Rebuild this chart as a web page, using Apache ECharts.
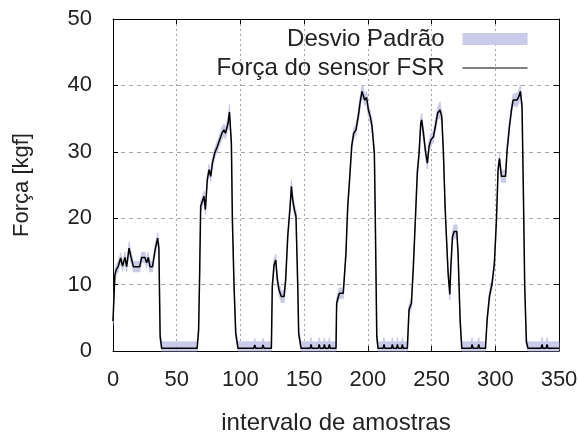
<!DOCTYPE html>
<html>
<head>
<meta charset="utf-8">
<script src="https://cdn.jsdelivr.net/npm/echarts@6/dist/echarts.min.js"></script>
<style>html,body{margin:0;padding:0;background:#fff}#c{width:579px;height:435px}</style>
</head>
<body>
<div id="c"></div>
<script>
// sample index
var samples = [0,1.5,2.5,4,6,7.5,9.4,10.7,12.6,14.2,16,21,22.5,25,26.4,27.7,29,31,33,35,36,37,38.2,
  50,66,67.2,68,68.8,70.6,71.4,72.5,74,75.4,76.7,78,79.8,81.9,83.7,85.5,87,88.2,90.3,91.4,92.9,93.7,95,96.3,98.1,
  105,110.5,111.2,112,117,117.7,118.5,124.3,125,126.4,127.7,129,130.3,132.1,134.2,135.5,137.1,139,140,141,142.3,143.6,145,145.7,147.6,
  154.7,155.4,156.1,161.1,161.8,162.5,165.2,165.9,166.6,169.1,169.8,170.5,175,175.5,177.6,180.7,182.8,184.2,185.5,187.3,188.9,190.7,192.8,193.8,195.4,196.4,197.5,199,200.4,201.9,203.3,205.1,205.7,207,208,
  212,212.7,213.4,218.5,219.2,219.9,222.5,223.2,223.9,226.4,227.1,227.8,231,232.3,234.2,235.7,237.5,238.8,240.2,241.5,242.2,243.6,245.4,246.7,248,249.5,251.5,253.4,254.7,256.6,258,259.3,260.6,262,263,264.3,265,266.4,267.7,269.8,270.8,272.4,273.7,
  281.1,281.8,282.5,286.3,287,287.7,292.3,293.6,295.4,297.5,299.3,300.9,302.2,303.3,304.8,308,309.3,311.1,312.7,314,317.1,318.4,319.7,321,322.1,323.1,324.4,325.7,
  336,336.7,337.4,339.9,340.6,341.3,350];
// mean FSR force [kgf]
var force = [4.5,11.5,12.2,12.7,14,12.8,14.1,12.7,15.5,14.1,12.7,12.7,14.1,14.1,13.3,14.1,12.7,12.7,15.2,17,15.5,2.2,0.4,
  0.4,0.4,3.2,11.7,21.8,22.8,23.3,21.3,25.8,27.3,26.3,28.3,29.8,30.8,31.8,32.8,33.3,32.8,34.3,36,31.3,19.7,9.7,2.7,0.4,
  0.4,0.4,0.9,0.4,0.4,0.9,0.4,0.4,9.7,13,13.7,10.7,9.2,8.2,8.2,10.7,17.2,21.8,24.8,22.8,21.3,20.3,9.7,2.7,0.4,
  0.4,1.0,0.4,0.4,1.0,0.4,0.4,1.0,0.4,0.4,1.0,0.4,0.4,7.2,8.7,8.7,14.7,21.8,25.3,30.8,32.8,33.3,35.8,37.3,39.1,38.8,37.8,38.2,36.3,35.3,33.8,29.8,22,2.2,0.4,
  0.4,1.0,0.4,0.4,1.0,0.4,0.4,1.0,0.4,0.4,1.0,0.4,0.4,6.2,7.2,12.7,20.8,26.8,29.8,34.3,34.8,32.8,29.8,28.3,30.8,31.8,32.3,34.3,35.8,36.3,35.3,29.8,21.8,15.7,11.7,8.5,12.2,17.2,18,18,14.7,4.7,0.4,
  0.4,1.0,0.4,0.4,1.0,0.4,0.4,4.7,8.2,10.2,13.2,19.7,27.3,29,26.3,26.3,30.3,33.8,36.3,37.8,37.8,38.3,39.1,36.8,23.3,9.7,1.4,0.4,
  0.4,1.0,0.4,0.4,1.0,0.4,0.4];
// standard deviation [kgf]
var stdDev = [0.5,0.8,0.8,0.8,0.8,0.8,0.8,0.8,0.9,0.8,0.8,0.8,0.8,0.8,0.8,0.8,0.8,0.8,0.8,0.8,0.8,0.8,1.0,
  1.0,1.0,0.8,0.8,0.8,0.8,0.8,0.8,0.8,0.8,0.8,0.8,0.8,0.8,0.8,0.9,0.9,0.9,1.0,1.2,1.0,0.8,0.8,0.8,1.0,
  1.0,1.0,1.0,1.0,1.0,1.0,1.0,1.0,0.8,0.9,0.9,0.9,0.9,0.9,0.9,0.9,0.9,0.9,1.0,0.9,0.9,0.9,0.8,0.8,1.0,
  1.0,1.0,1.0,1.0,1.0,1.0,1.0,1.0,1.0,1.0,1.0,1.0,1.0,0.8,0.8,0.8,0.8,0.8,0.8,0.8,0.8,0.8,0.9,0.9,1.0,1.0,0.9,0.9,0.9,0.9,0.9,0.9,0.8,0.8,1.0,
  1.0,1.0,1.0,1.0,1.0,1.0,1.0,1.0,1.0,1.0,1.0,1.0,1.0,0.8,0.8,0.8,0.8,0.8,0.8,0.9,1.0,0.9,0.9,0.9,0.9,0.9,0.9,0.9,0.9,1.2,0.9,0.8,0.8,0.8,0.8,0.8,0.8,0.9,1.0,1.0,0.8,0.8,1.0,
  1.0,1.0,1.0,1.0,1.0,1.0,1.0,0.8,0.8,0.8,0.8,0.8,0.8,0.9,0.9,1.0,0.9,0.8,0.8,0.9,1.0,1.0,1.0,0.9,0.8,0.8,0.8,1.0,
  1.0,1.0,1.0,1.0,1.0,1.0,1.0];
var xTicks = [0,50,100,150,200,250,300,350];
var yTicks = [0,10,20,30,40,50];

var bandData = [], lineData = [];
for (var i = 0; i < samples.length; i++) {
  lineData.push([samples[i], force[i]]);
  if (i < samples.length - 1) {
    bandData.push([samples[i], force[i] - stdDev[i], force[i] + stdDev[i],
                   samples[i + 1], force[i + 1] - stdDev[i + 1], force[i + 1] + stdDev[i + 1]]);
  }
}

var FONT = 'Liberation Sans';
var txt = '#222';
var BAND = '#cacaea';
var chart = echarts.init(document.getElementById('c'), null, {renderer: 'canvas'});
var axisBase = {
  type: 'value',
  axisLine: {show: true, onZero: false, lineStyle: {color: '#000', width: 1}},
  axisTick: {show: true, inside: true, length: 5, lineStyle: {color: '#000'}}
};
function renderBand(params, api) {
  var pts = [
    api.coord([api.value(0), api.value(1)]),
    api.coord([api.value(3), api.value(4)]),
    api.coord([api.value(3), api.value(5)]),
    api.coord([api.value(0), api.value(2)])
  ];
  var cs = params.coordSys;
  pts = echarts.graphic.clipPointsByRect(pts, {x: cs.x, y: cs.y, width: cs.width, height: cs.height});
  return {type: 'polygon', shape: {points: pts},
    style: {fill: BAND, stroke: BAND, lineWidth: 0.6}};
}
chart.setOption({
  animation: false,
  backgroundColor: '#fff',
  textStyle: {fontFamily: FONT},
  grid: {left: 113, right: 20, top: 19, bottom: 84, containLabel: false, outerBoundsMode: 'none'},
  legend: {
    orient: 'vertical',
    align: 'right',
    right: 51,
    top: 27,
    padding: 0,
    itemWidth: 65,
    itemHeight: 12,
    itemGap: 5,
    textStyle: {fontFamily: FONT, fontSize: 24, color: txt, padding: [0, 13, 0, 0]},
    data: [
      {name: 'Desvio Padrão', icon: 'rect', itemStyle: {color: BAND, opacity: 1}},
      {name: 'Força do sensor FSR', itemStyle: {opacity: 0}, lineStyle: {width: 1, color: '#000'}}
    ]
  },
  xAxis: [
    Object.assign({}, axisBase, {
      min: 0, max: 350, interval: 50, position: 'bottom',
      name: 'intervalo de amostras', nameLocation: 'middle', nameGap: 60,
      nameTextStyle: {fontFamily: FONT, fontSize: 24, color: txt},
      axisLabel: {fontFamily: FONT, fontSize: 22, color: txt, margin: 18,
        formatter: function (v) { return xTicks.indexOf(v) >= 0 ? String(v) : ''; }},
      splitLine: {show: true, lineStyle: {color: '#a8a8a8', type: [2, 3], width: 1}}
    }),
    Object.assign({}, axisBase, {
      min: 0, max: 350, interval: 50, position: 'top',
      axisLabel: {show: false}, splitLine: {show: false}
    })
  ],
  yAxis: [
    Object.assign({}, axisBase, {
      min: 0, max: 50, interval: 10, position: 'left',
      name: 'Força [kgf]', nameLocation: 'middle', nameGap: 80, nameRotate: 90,
      nameTextStyle: {fontFamily: FONT, fontSize: 22, color: txt},
      axisLabel: {fontFamily: FONT, fontSize: 22, color: txt, margin: 21,
        formatter: function (v) { return yTicks.indexOf(v) >= 0 ? String(v) : ''; }},
      splitLine: {show: true, lineStyle: {color: '#a8a8a8', type: [4, 4], width: 1}}
    }),
    Object.assign({}, axisBase, {
      min: 0, max: 50, interval: 10, position: 'right',
      axisLabel: {show: false}, splitLine: {show: false}
    })
  ],
  series: [
    {
      name: 'Desvio Padrão', type: 'custom', data: bandData, renderItem: renderBand,
      encode: {x: [0, 3], y: [1, 2, 4, 5]}, silent: true, color: BAND, z: 1
    },
    {
      name: 'Força do sensor FSR', type: 'line', data: lineData, symbol: 'none',
      color: '#000', lineStyle: {color: '#000', width: 1.5}, z: 3
    }
  ]
});
</script>
</body>
</html>
